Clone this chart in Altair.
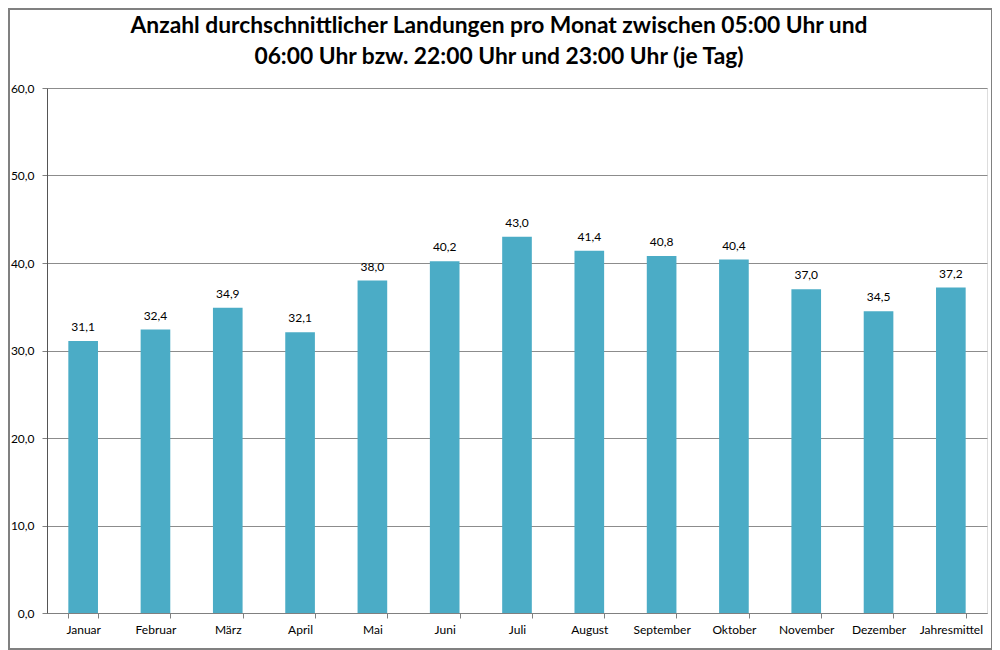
import altair as alt
import pandas as pd

months = ["Januar", "Februar", "März", "April", "Mai", "Juni", "Juli", "August",
          "September", "Oktober", "November", "Dezember", "Jahresmittel"]
values = [31.1, 32.4, 34.9, 32.1, 38.0, 40.2, 43.0, 41.4, 40.8, 40.4, 37.0, 34.5, 37.2]
y_ticks = [0, 10, 20, 30, 40, 50, 60]
title_lines = ["Anzahl durchschnittlicher Landungen pro Monat zwischen 05:00 Uhr und",
               "06:00 Uhr bzw. 22:00 Uhr und 23:00 Uhr (je Tag)"]

df = pd.DataFrame({"Monat": months, "Wert": values})
df["Label"] = [f"{v:.1f}".replace(".", ",") for v in values]

W, H = 940, 525
FONT = "Lato"

x = alt.X("Monat:N", sort=months, title=None,
          scale=alt.Scale(paddingInner=0.59, paddingOuter=0.295),
          axis=alt.Axis(labelAngle=0, labelFontSize=12, labelColor="#000000",
                        labelFont=FONT, tickBand="extent", tickSize=5,
                        domainColor="#808080", tickColor="#808080", labelPadding=6))
y = alt.Y("Wert:Q", title=None,
          scale=alt.Scale(domain=[0, 60], nice=False),
          axis=alt.Axis(values=y_ticks, labelExpr="replace(format(datum.value, '.1f'), '.', ',')",
                        labelFontSize=12, labelColor="#000000", labelFont=FONT,
                        tickSize=5, tickColor="#808080", domainColor="#555555",
                        gridColor="#8c8c8c", gridWidth=1, labelPadding=8))

bars = alt.Chart(df).mark_bar(color="#4bacc6").encode(x=x, y=y)
labels = alt.Chart(df).mark_text(dy=-14, fontSize=12, font=FONT, color="#000000").encode(
    x=alt.X("Monat:N", sort=months), y="Wert:Q", text="Label:N")
border = alt.Chart(df).mark_rect(fill=None, stroke="#808080", strokeWidth=1.5).encode(
    x=alt.value(-38), x2=alt.value(W + 5), y=alt.value(-79), y2=alt.value(H + 36))

chart = alt.layer(bars, labels, border).properties(
    width=W, height=H,
    title=alt.TitleParams(title_lines, fontSize=22.8, font=FONT, fontWeight="bold",
                          color="#000000", anchor="middle", frame="group", dx=-18,
                          offset=-61, lineHeight=31),
    autosize=alt.AutoSizeParams(type="none"),
    padding={"left": 39, "top": 80, "right": 5, "bottom": 37},
).configure_view(stroke=None).configure(background="white")

chart.save("out.html", embed_options={"renderer": "svg", "actions": False})
